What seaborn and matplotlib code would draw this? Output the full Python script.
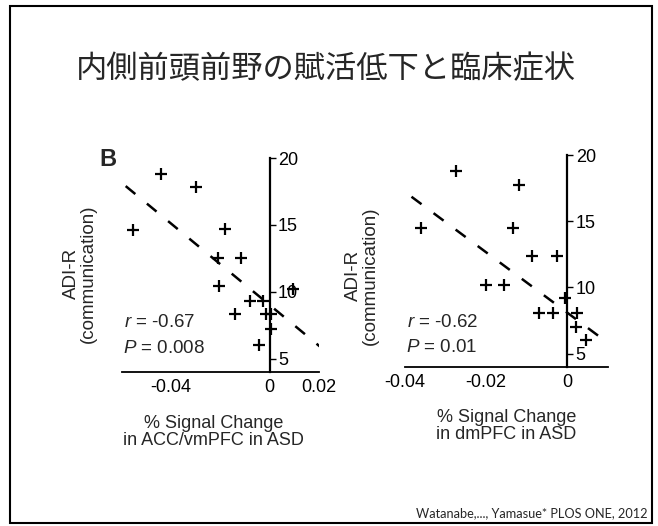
# tratamiento de datos
import pandas as pd
import numpy as np

# visualizaciones
import matplotlib
matplotlib.use('Agg')
import matplotlib.pyplot as plt
import seaborn as sns
from matplotlib.patches import Rectangle

titulo = '内側前頭前野の賦活低下と臨床症状'
cita = 'Watanabe,..., Yamasue* PLOS ONE, 2012'

# ACC/vmPFC (panel izquierdo)
acc_senal = [-0.0442, -0.0299, -0.0554, -0.0181, -0.0211, -0.0116, -0.0208, -0.0079,
             -0.0027, 0.0094, -0.0143, -0.0016, 0.0007, 0.0007, -0.0044]
acc_adir = [18.8, 17.8, 14.6, 14.7, 12.5, 12.5, 10.4, 9.3,
            9.3, 10.2, 8.3, 8.3, 8.3, 7.2, 6.0]
# recta de ajuste tal como aparece en la figura (extremos)
acc_recta_x = [-0.0585, 0.0204]
acc_recta_y = [17.9, 5.9]

# dmPFC (panel derecho)
dm_senal = [-0.0275, -0.0118, -0.0361, -0.0135, -0.0086, -0.0026, -0.0201, -0.0157,
            -0.0006, -0.0071, -0.0035, 0.0023, 0.0021, 0.0047]
dm_adir = [18.8, 17.7, 14.5, 14.5, 12.4, 12.4, 10.2, 10.2,
           9.2, 8.1, 8.1, 8.1, 7.0, 6.0]
dm_recta_x = [-0.0384, 0.009]
dm_recta_y = [16.85, 6.04]

acc_xticks = [-0.06, -0.04, -0.02, 0, 0.02]
acc_xlabels = ['', '-0.04', '', '0', '0.02']
dm_xticks = [-0.04, -0.02, 0, 0.01]
dm_xlabels = ['-0.04', '-0.02', '0', '']
yticks = [5, 10, 15, 20]

sns.set_style('white')
plt.rcParams['font.family'] = ['Liberation Sans', 'DejaVu Sans']
plt.rcParams['mathtext.fontset'] = 'custom'
plt.rcParams['mathtext.it'] = 'Liberation Sans:italic'
plt.rcParams['mathtext.rm'] = 'Liberation Sans'


def panel(ax, x, y, rx, ry, xlim, xticks, xlabels, xlabel, r_txt, p_txt,
          lab_x, lab_y, txt_y):
    """dibuja un panel de dispersion con la recta de regresion discontinua"""
    df = pd.DataFrame({'senal': x, 'adir': y})
    recta = pd.DataFrame({'senal': rx, 'adir': ry})
    sns.scatterplot(data=df, x='senal', y='adir', ax=ax, marker='+', color='black',
                    s=80, linewidth=1.6, zorder=4)
    sns.lineplot(data=recta, x='senal', y='adir', ax=ax, color='black',
                 linestyle=(0, (5, 6)), linewidth=1.8)
    ax.set_xlim(xlim)
    ax.set_ylim(4, 20)

    # eje y en x = 0 con etiquetas a la derecha
    ax.spines['top'].set_visible(False)
    ax.spines['left'].set_visible(False)
    ax.spines['right'].set_position(('data', 0))
    ax.spines['right'].set_linewidth(1.6)
    ax.spines['bottom'].set_linewidth(1.3)
    for s in ['right', 'bottom']:
        ax.spines[s].set_color('black')
    ax.yaxis.tick_right()
    ax.set_yticks(yticks)
    ax.tick_params(axis='y', direction='out', length=4, width=1, pad=2,
                   labelsize=13, colors='black')
    ax.set_xticks(xticks)
    ax.set_xticklabels(xlabels)
    ax.tick_params(axis='x', direction='in', length=4, width=1, pad=5,
                   labelsize=13, colors='black')

    ax.set_xlabel(xlabel, fontsize=13, linespacing=1.0)
    ax.xaxis.set_label_coords(lab_x, -0.2)
    ax.set_ylabel('ADI-R\n(communication)', fontsize=13.5, linespacing=0.95)
    ax.yaxis.set_label_position('left')
    ax.yaxis.set_label_coords(-0.13, lab_y)

    ax.text(0.01, txt_y[0], r_txt, transform=ax.transAxes, fontsize=13.5, va='center')
    ax.text(0.005, txt_y[1], p_txt, transform=ax.transAxes, fontsize=13.5, va='center')


fig = plt.figure(figsize=(6.58, 5.26), dpi=100)

ax1 = fig.add_axes([0.1854, 0.2928, 0.2994, 0.4068])
panel(ax1, acc_senal, acc_adir, acc_recta_x, acc_recta_y, (-0.06, 0.02),
      acc_xticks, acc_xlabels, '% Signal Change\nin ACC/vmPFC in ASD',
      '$r$ = -0.67', '$P$ = 0.008', 0.465, 0.46, (0.229, 0.112))

ax2 = fig.add_axes([0.6155, 0.3023, 0.3085, 0.4030])
panel(ax2, dm_senal, dm_adir, dm_recta_x, dm_recta_y, (-0.04, 0.01),
      dm_xticks, dm_xlabels, '% Signal Change\nin dmPFC in ASD',
      '$r$ = -0.62', '$P$ = 0.01', 0.5, 0.43, (0.212, 0.09))

# titulo, letra del panel y cita
fig.text(0.496, 1 - 69 / 526, titulo, family=['Noto Sans CJK JP', 'DejaVu Sans'],
         fontsize=22.5, ha='center', va='center')
fig.text(108 / 658, 1 - 160 / 526, 'B', fontsize=17, fontweight='bold',
         ha='center', va='center')
fig.text(648 / 658, 1 - 513 / 526, cita, family=['Lato', 'DejaVu Sans'],
         fontsize=9.2, ha='right', va='center')

# marco de la diapositiva
fig.patches.append(Rectangle((10 / 658, 3 / 526), 642 / 658, 517 / 526,
                             transform=fig.transFigure, fill=False,
                             edgecolor='black', linewidth=1.5))

plt.savefig('out.png', dpi=100)
